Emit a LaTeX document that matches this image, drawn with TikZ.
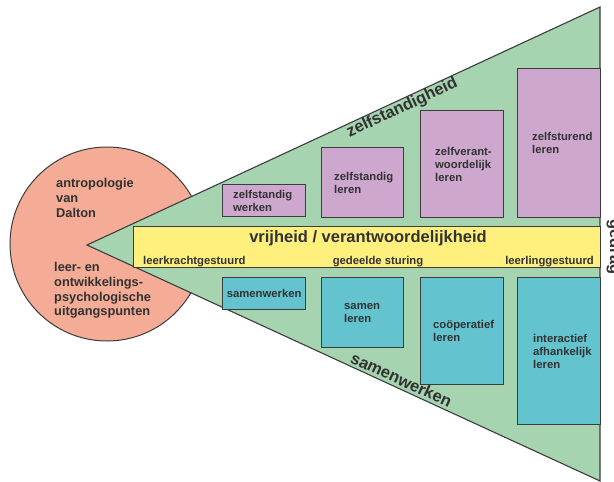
\documentclass[tikz,border=0pt]{standalone}
\usepackage{fontspec}
\setmainfont{Liberation Sans}
\definecolor{tri}{RGB}{166,212,176}
\definecolor{purp}{RGB}{205,167,205}
\definecolor{tealb}{RGB}{99,195,206}
\definecolor{yel}{RGB}{255,240,125}
\definecolor{salm}{RGB}{244,172,150}
\definecolor{edgec}{RGB}{60,60,60}
\definecolor{txt}{RGB}{50,50,50}
\begin{document}
\begin{tikzpicture}[x=1pt,y=-1pt,
  boxtext/.style={font=\bfseries\fontsize{11.3}{13}\selectfont, text=txt, inner sep=0pt, align=left, anchor=west},
  pbox/.style={draw=edgec, line width=1.3pt, fill=purp, anchor=north west, inner sep=0pt},
  tbox/.style={draw=edgec, line width=1.3pt, fill=tealb, anchor=north west, inner sep=0pt},
  bigtext/.style={font=\bfseries\fontsize{16.5}{18}\selectfont, text=txt, inner sep=0pt},
  circtext/.style={font=\bfseries\fontsize{12.8}{14.7}\selectfont, text=txt, align=left, inner sep=0pt, anchor=west},
  lbl/.style={font=\bfseries\fontsize{11.3}{13}\selectfont, text=txt, inner sep=0pt}
]
\useasboundingbox (0,0) rectangle (614,482);
% circle
\node[circle, draw=edgec, line width=1pt, fill=salm, minimum size=194pt, inner sep=0pt] (circ) at (107,244) {};
% triangle
\coordinate (apex) at (87,245);
\coordinate (tr) at (600,7);
\coordinate (br) at (600,481);
\draw[draw=edgec, line width=1.1pt, fill=tri, line join=miter] (apex) -- (tr) -- (br) -- cycle;
% yellow band
\node[draw=edgec, line width=1.3pt, fill=yel, anchor=north west, minimum width=467pt, minimum height=41pt, inner sep=0pt] (band) at (133,226) {};
\node[bigtext, anchor=base] (vrij) at (368,242.3) {vrijheid / verantwoordelijkheid};
\node[lbl, anchor=base west] (lk) at (143,264) {leerkrachtgestuurd};
\node[lbl, anchor=base] (gs) at (378,264) {gedeelde sturing};
\node[lbl, anchor=base east] (ll) at (594,264) {leerlinggestuurd};
% top boxes
\node[pbox, minimum width=83pt, minimum height=32pt] (a1) at (222,184) {};
\node[pbox, minimum width=82pt, minimum height=70pt] (a2) at (321,147) {};
\node[pbox, minimum width=83pt, minimum height=107pt] (a3) at (420,110) {};
\node[pbox, minimum width=83pt, minimum height=149pt] (a4) at (517,68) {};
\node[boxtext] (ta1) at ([xshift=11pt]a1.west) {zelfstandig\\werken};
\node[boxtext] (ta2) at ([xshift=13pt]a2.west) {zelfstandig\\leren};
\node[boxtext] (ta3) at ([xshift=15pt]a3.west) {zelfverant-\\woordelijk\\leren};
\node[boxtext] (ta4) at ([xshift=15pt]a4.west) {zelfsturend\\leren};
% bottom boxes
\node[tbox, minimum width=83pt, minimum height=32pt] (b1) at (222,277) {};
\node[tbox, minimum width=82pt, minimum height=70pt] (b2) at (321,277) {};
\node[tbox, minimum width=83pt, minimum height=107pt] (b3) at (420,277) {};
\node[tbox, minimum width=83pt, minimum height=147pt] (b4) at (517,277) {};
\node[boxtext, anchor=center] (tb1) at (b1.center) {samenwerken};
\node[boxtext] (tb2) at ([xshift=23pt]b2.west) {samen\\leren};
\node[boxtext] (tb3) at ([xshift=13pt]b3.west) {coöperatief\\leren};
\node[boxtext] (tb4) at ([xshift=16pt]b4.west) {interactief\\afhankelijk\\leren};
% edge labels
\node[bigtext, anchor=base, rotate=24.9] (zh) at (404,112) {zelfstandigheid};
\node[bigtext, anchor=base, rotate=-24.7] (sw) at (399,385) {samenwerken};
\node[bigtext, anchor=base, rotate=-90] (gd) at (610,247) {gedrag};
% circle texts
\node[circtext] (c1) at (56,198) {antropologie\\van\\Dalton};
\node[circtext] (c2) at (54,290.5) {leer- en\\ontwikkelings-\\psychologische\\uitgangspunten};
\end{tikzpicture}
\end{document}
